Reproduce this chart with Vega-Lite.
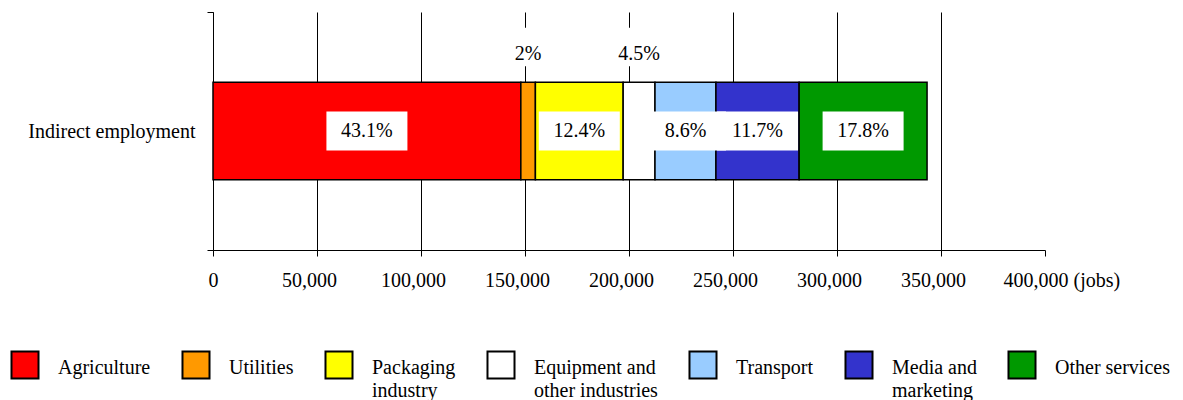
{
  "$schema": "https://vega.github.io/schema/vega-lite/v6.json",
  "width": 832,
  "height": 238,
  "autosize": {"type": "none"},
  "padding": {"left": 213, "top": 12, "right": 138, "bottom": 150},
  "background": "white",
  "config": {
    "font": "Liberation Serif",
    "view": {"stroke": null},
    "axis": {"labelFont": "Liberation Serif"},
    "legend": {"labelFont": "Liberation Serif"},
    "text": {"font": "Liberation Serif"}
  },
  "data": {
    "values": [
      {"group": "Indirect employment", "sector": "Agriculture", "order": 1, "jobs": 148000, "pct": "43.1%", "pos": "in"},
      {"group": "Indirect employment", "sector": "Utilities", "order": 2, "jobs": 7000, "pct": "2%", "pos": "above"},
      {"group": "Indirect employment", "sector": "Packaging|industry", "order": 3, "jobs": 42200, "pct": "12.4%", "pos": "in"},
      {"group": "Indirect employment", "sector": "Equipment and|other industries", "order": 4, "jobs": 15300, "pct": "4.5%", "pos": "above"},
      {"group": "Indirect employment", "sector": "Transport", "order": 5, "jobs": 29300, "pct": "8.6%", "pos": "in"},
      {"group": "Indirect employment", "sector": "Media and|marketing", "order": 6, "jobs": 40000, "pct": "11.7%", "pos": "in"},
      {"group": "Indirect employment", "sector": "Other services", "order": 7, "jobs": 61500, "pct": "17.8%", "pos": "in"}
    ]
  },
  "transform": [
    {"stack": "jobs", "groupby": ["group"], "sort": [{"field": "order"}], "as": ["x0", "x1"]},
    {"calculate": "(datum.x0 + datum.x1) / 2", "as": "mid"}
  ],
  "encoding": {
    "y": {
      "field": "group",
      "type": "nominal",
      "scale": {"paddingInner": 0, "paddingOuter": 0},
      "axis": {
        "title": null,
        "tickBand": "extent",
        "domainColor": "black",
        "tickColor": "black",
        "tickSize": 6,
        "labelFont": "Liberation Serif",
        "labelFontSize": 20,
        "labelColor": "black",
        "labelPadding": 12,
        "grid": false
      }
    }
  },
  "layer": [
    {
      "mark": {"type": "bar", "stroke": "black", "strokeWidth": 1.5, "height": {"band": 0.41}},
      "encoding": {
        "x": {
          "field": "x0",
          "type": "quantitative",
          "scale": {"domain": [0, 400000], "nice": false},
          "axis": {
            "title": null,
            "values": [0, 50000, 100000, 150000, 200000, 250000, 300000, 350000, 400000],
            "format": ",.0f",
            "tickSize": 6,
            "tickColor": "black",
            "domainColor": "black",
            "grid": true,
            "gridColor": "black",
            "gridOpacity": {"condition": {"test": "datum.value == 400000", "value": 0}, "value": 1},
            "labelFont": "Liberation Serif",
            "labelFontSize": 20,
            "labelColor": "black",
            "labelPadding": 14,
            "labelFlush": false,
            "labelOverlap": false,
            "labelExpr": "datum.value == 400000 ? datum.label + ' (jobs)' : datum.label",
            "labelAlign": {"condition": {"test": "datum.value == 400000", "value": "left"}, "value": "center"},
            "labelOffset": {"condition": [{"test": "datum.value == 400000", "value": -42}, {"test": "datum.value == 0", "value": 0}], "value": -8}
          }
        },
        "x2": {"field": "x1"},
        "color": {
          "field": "sector",
          "type": "nominal",
          "sort": {"field": "order"},
          "scale": {
            "domain": ["Agriculture", "Utilities", "Packaging|industry", "Equipment and|other industries", "Transport", "Media and|marketing", "Other services"],
            "range": ["#FF0000", "#FF9900", "#FFFF00", "#FFFFFF", "#99CCFF", "#3333CC", "#009900"]
          },
          "legend": {
            "orient": "none",
            "legendX": -203,
            "legendY": 338,
            "direction": "horizontal",
            "columns": 7,
            "title": null,
            "padding": 0,
            "symbolType": "square",
            "symbolSize": 730,
            "symbolStrokeColor": "black",
            "symbolStrokeWidth": 2,
            "symbolOpacity": 1,
            "labelFont": "Liberation Serif",
            "labelFontSize": 20,
            "labelColor": "black",
            "labelOffset": 18,
            "labelLimit": 0,
            "columnPadding": 27,
            "labelExpr": "split(indexof(datum.label, '|') >= 0 ? datum.label : datum.label + '|', '|')",
            "encode": {
              "labels": {
                "update": {
                  "lineHeight": {"value": 23},
                  "dy": {"value": 3}
                }
              }
            }
          }
        }
      }
    },
    {
      "transform": [{"filter": "datum.pos == 'in'"}],
      "mark": {"type": "point", "shape": "M-1,-0.48H1V0.48H-1Z", "filled": true, "fill": "white", "opacity": 1, "strokeWidth": 0, "size": 6561},
      "encoding": {"x": {"field": "mid", "type": "quantitative"}}
    },
    {
      "transform": [{"filter": "datum.pos == 'above'"}],
      "mark": {"type": "point", "shape": "M-0.6,-2.55H0.6V-1.6H-0.6Z", "filled": true, "fill": "white", "opacity": 1, "strokeWidth": 0, "size": 6561},
      "encoding": {"x": {"field": "mid", "type": "quantitative"}}
    },
    {
      "transform": [{"filter": "datum.pos == 'in'"}],
      "mark": {"type": "text", "font": "Liberation Serif", "fontSize": 20, "color": "black", "baseline": "middle", "align": "center"},
      "encoding": {"x": {"field": "mid", "type": "quantitative"}, "text": {"field": "pct"}}
    },
    {
      "transform": [{"filter": "datum.pos == 'above'"}],
      "mark": {"type": "text", "font": "Liberation Serif", "fontSize": 20, "color": "black", "baseline": "middle", "align": "center", "dy": -77},
      "encoding": {"x": {"field": "mid", "type": "quantitative"}, "text": {"field": "pct"}}
    }
  ]
}
